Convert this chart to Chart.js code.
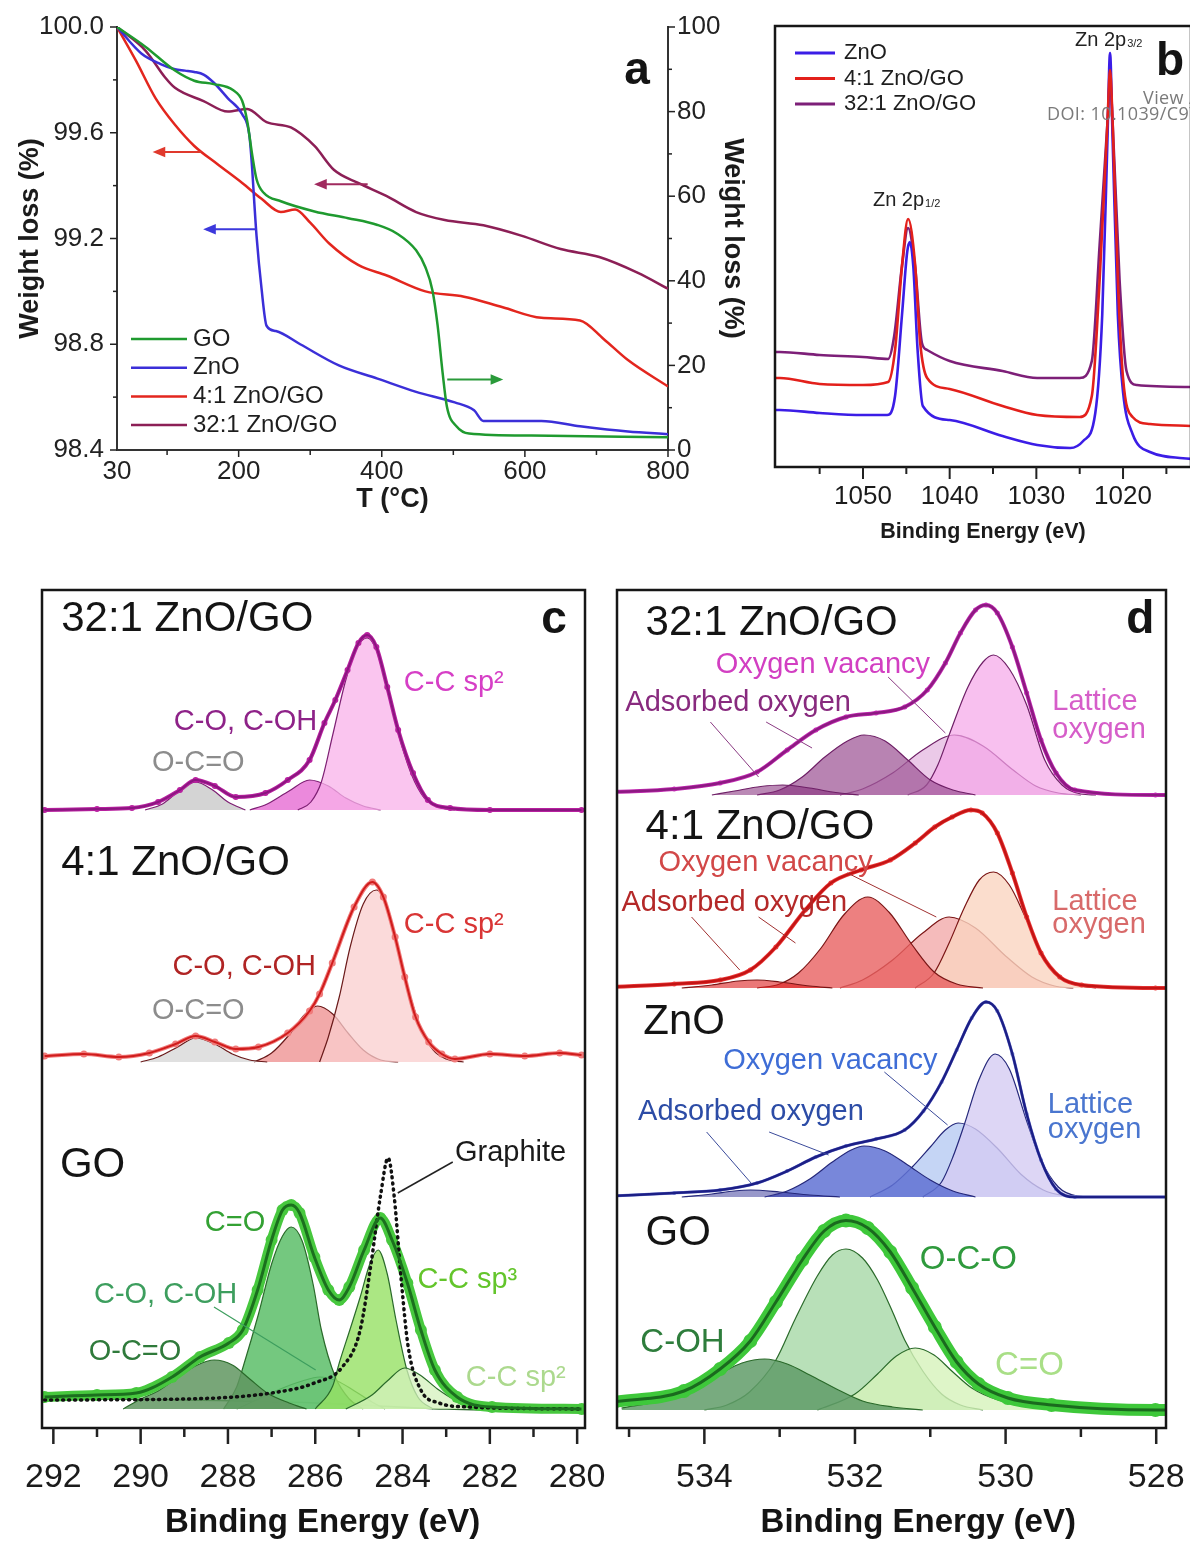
<!DOCTYPE html>
<html>
<head>
<meta charset="utf-8">
<title>ZnO/GO TGA and XPS</title>
<script src="https://cdn.jsdelivr.net/npm/chart.js@4.4.1/dist/chart.umd.min.js"></script>
<style>
  html, body { margin: 0; padding: 0; background: #fff; }
  body { position: relative; width: 1190px; height: 1546px; overflow: hidden; }
  canvas { position: absolute; }
  .doi { position: absolute; font-family: "Open Sans", "Noto Sans", sans-serif; color: #7a7a7a; white-space: nowrap; font-size: 18px; line-height: 18px; letter-spacing: 0.4px; }
</style>
</head>
<body>
<canvas id="tga" width="760" height="540" style="left:0px;top:0px"></canvas>
<canvas id="zn2p" width="430" height="560" style="left:770px;top:0px"></canvas>
<canvas id="c1s" width="640" height="971" style="left:0px;top:575px"></canvas>
<canvas id="o1s" width="590" height="971" style="left:600px;top:575px"></canvas>
<div class="doi" style="left:1143px;top:88px">View Article Online</div>
<div class="doi" style="left:1047px;top:104px">DOI: 10.1039/C9TA</div>
<script>
// ---------- panel a: TGA (temperature, weight %) ----------
var tgaNames = ['GO', 'ZnO', '4:1 ZnO/GO', '32:1 ZnO/GO'];
var tgaGO = [[30,100],[70,95.3],[111,89.7],[138,87.3],[165,86.5],[192,85.1],[205,82.5],[212,77.7],[219,69.7],[225,64.0],[235,60.8],[259,58.8],[306,56.4],[353,54.8],[394,53.2],[421,51.2],[448,47.2],[461,43.2],[471,37.6],[478,29.5],[485,18.3],[491,10.3],[505,5.5],[522,3.9],[609,3.4],[800,3.0]];
var tgaZnO = [[30,100],[64,99.9],[91,99.86],[111,99.84],[125,99.835],[138,99.83],[151,99.82],[165,99.79],[185,99.73],[205,99.67],[215,99.59],[219,99.46],[222,99.33],[225,99.21],[232,99.01],[239,98.87],[252,98.85],[286,98.8],[340,98.72],[394,98.67],[448,98.62],[502,98.58],[529,98.55],[542,98.51],[576,98.51],[623,98.51],[677,98.49],[744,98.47],[800,98.46]];
var tga41 = [[30,100],[57,99.87],[84,99.73],[111,99.63],[138,99.55],[171,99.48],[205,99.41],[232,99.35],[259,99.3],[279,99.31],[300,99.26],[327,99.18],[367,99.1],[407,99.06],[461,99.0],[515,98.98],[569,98.94],[623,98.9],[677,98.89],[710,98.82],[744,98.74],[800,98.64]];
var tga321 = [[30,100],[70,99.91],[97,99.81],[111,99.77],[151,99.72],[185,99.68],[212,99.69],[239,99.64],[273,99.62],[306,99.55],[333,99.46],[367,99.41],[407,99.36],[448,99.3],[488,99.27],[542,99.25],[596,99.21],[650,99.16],[704,99.13],[758,99.07],[800,99.01]];
var tempTicks = [30, 200, 400, 600, 800];
var tempMinor = [100, 300, 500, 700];
var lossTicks = [98.4, 98.8, 99.2, 99.6, 100];
var lossMinor = [98.6, 99.0, 99.4, 99.8];
var lossRightTicks = [0, 20, 40, 60, 80, 100];
var lossRightMinor = [10, 30, 50, 70, 90];

// ---------- panel b: Zn 2p survey (eV, counts a.u.) ----------
var znNames = ['ZnO', '4:1 ZnO/GO', '32:1 ZnO/GO'];
var znZnO = [[1060.1,5.7],[1059.6,5.7],[1055.0,5.4],[1050.0,5.2],[1047.2,5.2],[1046.3,7.1],[1045.5,15.2],[1044.9,21.5],[1044.6,22.5],[1044.2,20.1],[1043.7,11.7],[1043.1,6.1],[1040.0,4.7],[1033.9,3.1],[1029.9,2.2],[1026.1,1.9],[1024.6,2.6],[1023.2,5.4],[1022.4,15.2],[1021.8,32.7],[1021.5,41.4],[1021.2,32.7],[1020.6,15.2],[1020.0,7.5],[1018.9,3.3],[1016.9,1.5],[1012.0,0.8]];
var zn41 = [[1060.1,8.9],[1059.6,8.9],[1055.0,8.3],[1050.0,8.2],[1047.1,8.5],[1046.3,11.7],[1045.5,20.1],[1044.8,24.8],[1044.0,20.4],[1043.4,12.4],[1042.6,8.9],[1040.0,7.8],[1033.9,6.1],[1029.9,5.2],[1025.0,5.0],[1023.6,7.1],[1022.7,18.7],[1021.8,34.4],[1021.5,39.7],[1021.2,34.4],[1020.6,18.7],[1020.0,8.9],[1018.9,5.0],[1016.9,4.3],[1012.0,4.1]];
var zn321 = [[1060.1,11.5],[1059.6,11.5],[1055.0,11.2],[1050.0,11.0],[1047.1,10.8],[1046.4,13.1],[1045.5,20.1],[1044.8,23.9],[1044.0,20.1],[1043.2,12.4],[1042.6,11.7],[1040.0,10.6],[1033.9,9.6],[1029.9,8.9],[1025.0,8.9],[1023.6,10.6],[1022.7,22.2],[1021.8,34.4],[1021.5,38.6],[1021.2,34.4],[1020.4,18.7],[1019.6,9.6],[1018.4,8.2],[1012.0,8.0]];
var znTicks = [1050, 1040, 1030, 1020];
var znMinor = [1055, 1045, 1035, 1025, 1015];

// ---------- panel c: C 1s (eV, counts a.u. above each baseline) ----------
var cOffsets = [61.8, 36.6, 1.9];   // 32:1, 4:1, GO
var c321Env = [[292.2,0],[291.0,0.1],[290.2,0.2],[289.6,0.8],[289.1,2.0],[288.74,3.0],[288.3,2.4],[287.82,1.3],[287.14,1.7],[286.63,3.0],[286.13,5.0],[285.79,8.7],[285.54,11.0],[285.26,14.0],[285.01,16.7],[284.81,17.5],[284.6,16.3],[284.35,12.3],[284.1,8.0],[283.76,3.7],[283.42,1.0],[282.91,0.2],[282.0,0],[279.9,0]];
var c321OCO = [[289.9,0],[289.5,0.6],[289.15,1.8],[288.74,2.8],[288.35,2.0],[288.0,0.8],[287.6,0]];
var c321CO = [[287.5,0],[287.1,0.6],[286.6,1.9],[286.13,3.0],[285.7,2.4],[285.3,1.2],[284.9,0.4],[284.5,0]];
var c321CC = [[286.4,0],[286.1,0.8],[285.86,2.8],[285.6,7.5],[285.3,13.0],[285.05,16.2],[284.81,17.2],[284.6,16.0],[284.35,12.0],[284.1,7.7],[283.8,3.6],[283.5,1.2],[283.1,0.2],[282.8,0]];
var c41Env = [[292.2,0.6],[291.3,0.8],[290.5,0.5],[289.8,0.9],[289.2,1.8],[288.74,2.6],[288.3,2.0],[287.82,1.3],[287.3,1.5],[286.63,2.9],[286.13,5.1],[285.9,6.8],[285.61,9.9],[285.11,15.5],[284.69,18.0],[284.44,16.5],[284.17,12.5],[283.95,8.5],[283.7,4.5],[283.4,2.0],[283.1,0.8],[282.8,0.3],[282.0,0.8],[281.2,0.6],[280.4,0.9],[279.9,0.7]];
var c41OCO = [[290.0,0],[289.6,0.5],[289.15,1.5],[288.74,2.4],[288.3,1.8],[287.9,0.8],[287.5,0.2],[287.1,0]];
var c41CO = [[287.4,0],[287.0,0.9],[286.6,2.7],[286.25,4.7],[285.95,5.6],[285.6,4.8],[285.25,2.9],[284.9,1.2],[284.5,0.2],[284.1,0]];
var c41CC = [[285.9,0],[285.7,2.5],[285.45,6.5],[285.2,11.5],[284.9,15.8],[284.6,17.2],[284.35,15.6],[284.1,11.2],[283.85,7.0],[283.6,3.6],[283.3,1.2],[283.0,0.3],[282.6,0]];
var cGOEnv = [[292.2,1.2],[291.0,1.4],[290.1,1.6],[289.28,3.2],[288.64,5.2],[287.98,6.6],[287.66,7.9],[287.32,11.9],[287.0,16.9],[286.75,19.9],[286.55,20.4],[286.36,19.6],[286.02,15.2],[285.7,11.9],[285.45,10.9],[285.22,12.2],[284.88,15.9],[284.51,19.1],[284.24,16.9],[283.89,12.6],[283.58,7.9],[283.26,3.9],[282.75,1.2],[281.95,0.2],[279.9,0]];
var cGOBack = [[292.2,1.1],[289.0,0.9],[286.0,0.6],[283.0,0.0],[279.9,-0.2]];
var cGOOCO = [[290.4,0],[290.0,1.0],[289.6,1.8],[289.2,3.0],[288.7,4.4],[288.31,4.9],[287.9,4.4],[287.5,3.0],[287.1,1.6],[286.6,0.6],[286.2,0]];
var cGOCdO = [[288.1,0],[287.8,2.2],[287.66,4.1],[287.3,9.5],[287.0,14.5],[286.75,17.3],[286.55,18.2],[286.3,16.8],[286.05,12.5],[285.86,7.9],[285.54,3.2],[285.22,1.0],[284.9,0]];
var cGOCO = [[287.8,0],[287.2,1.2],[286.8,2.0],[286.3,2.8],[285.9,3.2],[285.5,2.8],[285.1,1.8],[284.7,0.7],[284.4,0]];
var cGOsp3 = [[286.0,0],[285.6,2.3],[285.45,4.6],[285.2,8.0],[284.97,11.2],[284.75,14.5],[284.56,15.9],[284.35,13.5],[284.15,8.9],[283.9,3.9],[283.65,1.2],[283.3,0]];
var cGOsp2 = [[285.3,0],[284.7,1.4],[284.35,2.8],[283.95,4.1],[283.6,3.4],[283.2,2.0],[282.8,0.9],[282.2,0]];
var cGraphite = [[292.2,0.9],[289.0,1.0],[287.0,1.6],[286.02,2.6],[285.38,4.2],[284.97,7.9],[284.72,14.6],[284.51,21.2],[284.33,25.1],[284.19,21.2],[284.03,12.9],[283.87,6.2],[283.58,1.9],[283.16,0.6],[282.5,0.2],[279.9,0]];
var cTicks = [292, 290, 288, 286, 284, 282, 280];
var cMinor = [291, 289, 287, 285, 283, 281];

// ---------- panel d: O 1s (eV, counts a.u. above each baseline) ----------
var dOffsets = [63.3, 44.0, 23.1, 1.8];   // 32:1, 4:1, ZnO, GO
var d321Env = [[535.2,0.3],[534.4,0.6],[533.79,1.2],[533.3,2.3],[532.9,4.5],[532.52,6.5],[532.12,7.8],[531.72,8.2],[531.34,8.8],[531.04,10.5],[530.8,13.2],[530.6,16.2],[530.4,18.5],[530.26,19.0],[530.11,18.2],[529.91,14.8],[529.72,10.2],[529.53,5.5],[529.33,2.2],[529.08,0.5],[528.01,0],[527.8,0]];
var d321Small = [[533.9,0],[533.6,0.4],[533.25,0.85],[532.96,1.0],[532.6,0.7],[532.3,0.3],[531.95,0]];
var d321Ads = [[533.3,0],[533.0,0.5],[532.7,1.8],[532.4,3.8],[532.1,5.4],[531.88,6.0],[531.6,5.4],[531.3,3.5],[531.0,1.5],[530.7,0.5],[530.4,0]];
var d321Vac = [[532.2,0],[531.9,0.6],[531.5,2.2],[531.1,4.5],[530.68,6.0],[530.3,4.9],[529.9,2.5],[529.6,0.9],[529.3,0.2],[529.0,0]];
var d321Lat = [[531.3,0],[531.05,1.0],[530.9,3.0],[530.75,6.0],[530.5,10.8],[530.3,13.3],[530.16,14.0],[529.95,12.6],[529.72,9.0],[529.48,3.5],[529.25,1.0],[529.0,0.1],[528.8,0]];
var d41Env = [[535.2,0.1],[534.4,0.4],[533.79,0.8],[533.39,1.8],[533.05,4.1],[532.66,7.8],[532.32,10.5],[531.92,11.8],[531.53,12.8],[531.2,14.5],[530.94,16.1],[530.71,17.1],[530.46,17.8],[530.31,17.5],[530.11,15.5],[529.91,11.5],[529.72,7.1],[529.53,3.5],[529.28,1.1],[528.99,0.3],[528.01,0],[527.8,0]];
var d41Small = [[534.3,0],[533.9,0.3],[533.55,0.7],[533.3,0.8],[533.0,0.6],[532.6,0.2],[532.3,0]];
var d41Ads = [[533.3,0],[533.0,0.4],[532.75,1.5],[532.45,4.0],[532.15,7.3],[531.83,9.1],[531.55,7.6],[531.24,4.3],[530.95,1.6],[530.65,0.4],[530.3,0]];
var d41Vac = [[532.2,0],[531.9,0.8],[531.5,2.8],[531.1,5.5],[530.75,7.1],[530.4,6.0],[530.0,3.2],[529.65,1.1],[529.35,0.2],[529.1,0]];
var d41Lat = [[531.2,0],[530.95,1.5],[530.75,4.5],[530.55,8.0],[530.35,10.8],[530.16,11.6],[529.95,10.3],[529.72,6.8],[529.48,3.0],[529.25,0.9],[529.0,0.2],[528.8,0]];
var dZnOEnv = [[535.2,0.1],[534.4,0.4],[533.79,0.7],[533.3,1.4],[532.9,2.6],[532.52,4.0],[532.12,5.1],[531.72,5.8],[531.34,6.7],[531.09,8.6],[530.85,11.5],[530.65,14.7],[530.45,17.9],[530.26,19.5],[530.11,18.6],[529.91,14.3],[529.72,8.3],[529.53,3.7],[529.33,0.8],[529.08,0],[527.8,0]];
var dZnOSmall = [[534.3,0],[533.9,0.3],[533.6,0.6],[533.39,0.7],[533.0,0.5],[532.6,0.2],[532.2,0]];
var dZnOAds = [[533.2,0],[532.9,0.6],[532.6,1.8],[532.3,3.5],[532.05,4.7],[531.88,5.1],[531.6,4.6],[531.3,3.2],[531.0,1.7],[530.7,0.6],[530.4,0]];
var dZnOVac = [[531.8,0],[531.5,1.2],[531.24,3.0],[531.0,5.0],[530.8,6.7],[530.63,7.4],[530.4,6.8],[530.1,4.8],[529.8,2.3],[529.5,0.7],[529.2,0.1],[529.0,0]];
var dZnOLat = [[531.1,0],[530.85,1.5],[530.7,4.0],[530.55,7.2],[530.35,11.8],[530.14,14.3],[529.95,12.8],[529.72,7.6],[529.53,3.7],[529.3,1.0],[529.05,0.1],[528.8,0]];
var dGOEnv = [[535.2,0.8],[534.27,1.9],[533.79,4.1],[533.39,6.9],[533.05,10.8],[532.7,15.0],[532.41,17.9],[532.12,18.95],[531.83,18.2],[531.53,15.8],[531.24,12.2],[530.94,8.3],[530.65,4.8],[530.36,2.6],[529.97,1.2],[529.39,0.5],[528.01,0],[527.8,0]];
var dGOCOH = [[535.1,0.2],[534.6,0.9],[534.2,2.0],[533.8,3.6],[533.5,4.7],[533.2,5.1],[532.9,4.6],[532.6,3.5],[532.22,2.0],[531.9,0.9],[531.5,0.3],[531.1,0]];
var dGOOCO = [[534.0,0],[533.7,0.5],[533.4,1.8],[533.05,5.0],[532.8,9.0],[532.5,13.4],[532.3,15.5],[532.12,16.1],[531.9,15.2],[531.7,13.0],[531.5,9.8],[531.34,7.0],[531.1,3.9],[530.85,1.6],[530.6,0.5],[530.3,0]];
var dGOCdO = [[532.5,0],[532.0,1.6],[531.7,3.6],[531.45,5.4],[531.2,6.2],[530.95,5.5],[530.7,3.8],[530.45,2.2],[530.1,1.0],[529.7,0.4],[529.2,0.1],[528.8,0]];
var dTicks = [534, 532, 530, 528];
var dMinor = [535, 533, 531, 529];

var FONT = '"Liberation Sans", Arial, Helvetica, sans-serif';
Chart.defaults.font.family = FONT;
Chart.defaults.color = '#1b1b1b';
Chart.defaults.animation = false;
Chart.defaults.plugins.legend.display = false;
Chart.defaults.plugins.tooltip.enabled = false;

function xy(points, offset) {
    return points.map(function (p) { return { x: p[0], y: p[1] + (offset || 0) }; });
}

function curve(points, color, width, axis) {
    return { data: xy(points), borderColor: color, borderWidth: width, pointRadius: 0, fill: false,
        yAxisID: axis || 'y', cubicInterpolationMode: 'monotone', borderJoinStyle: 'round' };
}

function fitLine(points, offset, color, width) {
    return { data: xy(points, offset), borderColor: color, borderWidth: width, pointRadius: 0, fill: false,
        cubicInterpolationMode: 'monotone', borderJoinStyle: 'round' };
}

function measured(points, offset, color, band, radius) {
    return { data: xy(points, offset), borderColor: color, borderWidth: band, pointRadius: radius,
        pointBackgroundColor: color, pointBorderWidth: 0, fill: false, cubicInterpolationMode: 'monotone' };
}

function peak(points, offset, fillColor, lineColor) {
    return { data: xy(points, offset), borderColor: lineColor, borderWidth: 1.2, backgroundColor: fillColor,
        pointRadius: 0, fill: { value: offset }, cubicInterpolationMode: 'monotone' };
}

function drawLabel(ctx, t, x, y) {
    var main = (t.bold ? 'bold ' : '') + t.size + 'px ' + FONT;
    var small = Math.round(t.size * 0.55) + 'px ' + FONT;
    ctx.font = main;
    var w = ctx.measureText(t.t).width;
    var sw = 0;
    if (t.sub) { ctx.font = small; sw = ctx.measureText(t.sub).width; }
    var x0 = x;
    if (t.align === 'center') x0 = x - (w + sw) / 2;
    else if (t.align === 'right') x0 = x - w - sw;
    ctx.fillStyle = t.color || '#141414';
    ctx.textAlign = 'left';
    ctx.textBaseline = 'middle';
    ctx.font = main;
    ctx.fillText(t.t, x0, y);
    if (t.sub) {
        ctx.font = small;
        ctx.fillText(t.sub, x0 + w + 1, y + t.size * 0.22);
    }
}

function decor(o) {
    return {
        id: 'decor',
        afterDraw: function (chart) {
            var ctx = chart.ctx;
            var area = chart.chartArea;
            var sx = chart.scales.x;
            ctx.save();
            if (o.box) {
                ctx.strokeStyle = '#161616';
                ctx.lineWidth = o.box;
                ctx.strokeRect(area.left, area.top, area.right - area.left, area.bottom - area.top);
            }
            (o.ticks || []).forEach(function (t) {
                var sc = chart.scales[t.axis];
                ctx.strokeStyle = '#222';
                ctx.lineWidth = t.width;
                t.values.forEach(function (v) {
                    var p = sc.getPixelForValue(v);
                    ctx.beginPath();
                    if (t.axis === 'x') { ctx.moveTo(p, area.bottom); ctx.lineTo(p, area.bottom + t.len); }
                    else if (t.axis === 'y2') { ctx.moveTo(area.right, p); ctx.lineTo(area.right + t.len, p); }
                    else { ctx.moveTo(area.left, p); ctx.lineTo(area.left - t.len, p); }
                    ctx.stroke();
                });
            });
            (o.lines || []).forEach(function (l) {
                var sy = chart.scales[l.axis || 'y'];
                var x1 = sx.getPixelForValue(l.from[0]), y1 = sy.getPixelForValue(l.from[1]);
                var x2 = sx.getPixelForValue(l.to[0]), y2 = sy.getPixelForValue(l.to[1]);
                ctx.strokeStyle = l.color;
                ctx.fillStyle = l.color;
                ctx.lineWidth = l.width || 1;
                ctx.beginPath();
                ctx.moveTo(x1, y1);
                ctx.lineTo(x2, y2);
                ctx.stroke();
                if (l.head) {
                    var ang = Math.atan2(y2 - y1, x2 - x1);
                    ctx.beginPath();
                    ctx.moveTo(x2 + Math.cos(ang) * 3, y2 + Math.sin(ang) * 3);
                    ctx.lineTo(x2 - Math.cos(ang - 0.5) * l.head, y2 - Math.sin(ang - 0.5) * l.head);
                    ctx.lineTo(x2 - Math.cos(ang + 0.5) * l.head, y2 - Math.sin(ang + 0.5) * l.head);
                    ctx.closePath();
                    ctx.fill();
                }
            });
            (o.texts || []).forEach(function (t) {
                var sy = chart.scales[t.axis || 'y'];
                drawLabel(ctx, t, sx.getPixelForValue(t.x), sy.getPixelForValue(t.y));
            });
            if (o.legend) {
                var lg = o.legend;
                lg.items.forEach(function (it, i) {
                    var y = area.top + lg.y + i * lg.step;
                    ctx.strokeStyle = it.color;
                    ctx.lineWidth = lg.width;
                    ctx.beginPath();
                    ctx.moveTo(area.left + lg.x, y);
                    ctx.lineTo(area.left + lg.x + lg.len, y);
                    ctx.stroke();
                    ctx.fillStyle = '#1e1e1e';
                    ctx.font = lg.size + 'px ' + FONT;
                    ctx.textBaseline = 'middle';
                    ctx.textAlign = 'left';
                    ctx.fillText(it.label, area.left + lg.x + lg.len + lg.gap, y);
                });
            }
            ctx.restore();
        }
    };
}

function fixedTicks(values) {
    return function (s) { s.ticks = values.map(function (v) { return { value: v }; }); };
}

// fixed axis thickness, and no extra room reserved for labels overhanging the ends
function fixHeight(h) {
    return function (s) { s.height = h; s.paddingLeft = 0; s.paddingRight = 0; };
}
function fixWidth(w) {
    return function (s) { s.width = w; s.paddingTop = 0; s.paddingBottom = 0; };
}

function plainNumber(v) { return String(v); }

function energyAxis(min, max, labels, height, size, pad, title) {
    return {
        type: 'linear', min: min, max: max, reverse: true,
        afterFit: fixHeight(height),
        afterBuildTicks: fixedTicks(labels),
        grid: { display: false, drawTicks: false },
        border: { display: false },
        ticks: { font: { size: size }, padding: pad, color: '#1b1b1b', autoSkip: false, maxRotation: 0, callback: plainNumber },
        title: title || { display: false }
    };
}

// ---------- panel a ----------
var tgaColors = ['#1f9a2f', '#3b2fd8', '#e3261e', '#8c1f56'];
new Chart(document.getElementById('tga'), {
    type: 'line',
    data: {
        datasets: [
            curve(tgaGO, tgaColors[0], 2.5, 'y2'),
            curve(tgaZnO, tgaColors[1], 2.5),
            curve(tga41, tgaColors[2], 2.5),
            curve(tga321, tgaColors[3], 2.5)
        ]
    },
    options: {
        responsive: false,
        devicePixelRatio: 1,
        layout: { padding: { top: 27, left: 0, right: 0, bottom: 0 } },
        scales: {
            x: {
                type: 'linear', min: 30, max: 800,
                afterFit: fixHeight(90),
                afterBuildTicks: fixedTicks(tempTicks),
                grid: { display: false, drawTicks: false },
                border: { display: true, color: '#333', width: 2 },
                ticks: { font: { size: 26 }, padding: 6, color: '#222', autoSkip: false, maxRotation: 0, callback: plainNumber },
                title: { display: true, text: 'T (°C)', font: { size: 27, weight: 'bold' }, color: '#1b1b1b', padding: { top: 0, bottom: 24 } }
            },
            y: {
                position: 'left', min: 98.4, max: 100,
                afterFit: fixWidth(117),
                afterBuildTicks: fixedTicks(lossTicks),
                grid: { display: false, drawTicks: false },
                border: { display: true, color: '#333', width: 2 },
                ticks: { font: { size: 26 }, padding: 13, color: '#222', autoSkip: false,
                    callback: function (v) { return v.toFixed(1); } },
                title: { display: true, text: 'Weight loss (%)', font: { size: 27, weight: 'bold' }, color: '#1b1b1b', padding: { top: 14, bottom: 0 } }
            },
            y2: {
                position: 'right', min: 0, max: 100,
                afterFit: fixWidth(92),
                afterBuildTicks: fixedTicks(lossRightTicks),
                grid: { display: false, drawTicks: false },
                border: { display: true, color: '#333', width: 2 },
                ticks: { font: { size: 26 }, padding: 9, color: '#222', autoSkip: false, callback: plainNumber },
                title: { display: true, text: 'Weight loss (%)', font: { size: 27, weight: 'bold' }, color: '#1b1b1b', padding: { top: 11, bottom: 0 } }
            }
        }
    },
    plugins: [decor({
        ticks: [
            { axis: 'x', values: tempTicks.slice(1), len: 7, width: 1.5 },
            { axis: 'x', values: tempMinor, len: 5, width: 1.5 },
            { axis: 'y', values: lossTicks, len: 7, width: 1.5 },
            { axis: 'y', values: lossMinor, len: 4, width: 1.5 },
            { axis: 'y2', values: lossRightTicks, len: 7, width: 1.5 },
            { axis: 'y2', values: lossRightMinor, len: 4, width: 1.5 }
        ],
        lines: [
            { from: [147.9, 99.527], to: [83.9, 99.527], color: '#e0392d', width: 2, head: 11 },
            { from: [380.3, 99.405], to: [309.6, 99.405], color: '#a02a5e', width: 2, head: 11 },
            { from: [225.4, 99.235], to: [154.6, 99.235], color: '#3c38dc', width: 2, head: 11 },
            { from: [491.5, 98.667], to: [565.6, 98.667], color: '#2a9a3a', width: 2, head: 11 }
        ],
        texts: [
            { t: 'a', x: 756.7, y: 99.834, size: 46, bold: true, align: 'center' }
        ],
        legend: {
            x: 14, y: 312, step: 28.7, len: 56, gap: 6, size: 24, width: 2.5,
            items: tgaNames.map(function (n, i) { return { label: n, color: tgaColors[i] }; })
        }
    })]
});

// ---------- panel b ----------
var znColors = ['#3b1de6', '#e3201b', '#7d1f78'];
new Chart(document.getElementById('zn2p'), {
    type: 'line',
    data: {
        datasets: [
            curve(zn41, znColors[1], 2.6),
            curve(znZnO, znColors[0], 2.6),
            curve(zn321, znColors[2], 2.6)
        ]
    },
    options: {
        responsive: false,
        devicePixelRatio: 1,
        layout: { padding: { top: 26, left: 5, right: 9, bottom: 0 } },
        scales: {
            x: energyAxis(1012.16, 1060.15, znTicks, 93, 26, 14,
                { display: true, text: 'Binding Energy (eV)', font: { size: 21.5, weight: 'bold' }, color: '#1b1b1b', padding: { top: 0, bottom: 15 } }),
            y: { display: false, min: 0, max: 44.1 }
        }
    },
    plugins: [decor({
        box: 2.5,
        ticks: [
            { axis: 'x', values: znTicks, len: 12, width: 2 },
            { axis: 'x', values: znMinor, len: 7, width: 2 }
        ],
        texts: [
            { t: 'b', x: 1014.58, y: 40.5, size: 46, bold: true, align: 'center' },
            { t: 'Zn 2p', sub: '3/2', x: 1025.54, y: 42.7, size: 20, color: '#222' },
            { t: 'Zn 2p', sub: '1/2', x: 1048.85, y: 26.7, size: 20, color: '#222' }
        ],
        legend: {
            x: 20, y: 27, step: 25.5, len: 40, gap: 9, size: 22, width: 3,
            items: znNames.map(function (n, i) { return { label: n, color: znColors[i] }; })
        }
    })]
});

// ---------- panel c ----------
var c321 = cOffsets[0], c41 = cOffsets[1], cGO = cOffsets[2];
new Chart(document.getElementById('c1s'), {
    type: 'line',
    data: {
        datasets: [
            fitLine(c321Env, c321, '#8b1680', 2),
            measured(c321Env, c321, '#b8209f', 4, 3),
            peak(c321OCO, c321, 'rgba(205,205,205,0.85)', '#7d1f73'),
            peak(c321CC, c321, 'rgba(248,178,234,0.75)', '#7d1f73'),
            peak(c321CO, c321, 'rgba(228,98,208,0.75)', '#7d1f73'),
            fitLine(c41Env, c41, '#d01c1c', 2),
            measured(c41Env, c41, '#f07a7a', 4, 3.5),
            peak(c41OCO, c41, 'rgba(218,218,218,0.85)', '#6a1a1a'),
            peak(c41CC, c41, 'rgba(250,205,205,0.75)', '#6a1a1a'),
            peak(c41CO, c41, 'rgba(238,140,140,0.75)', '#6a1a1a'),
            fitLine(cGOEnv, cGO, '#1b6f1e', 3),
            Object.assign(fitLine(cGraphite, cGO, '#111', 3.5), { borderDash: [1, 5], borderCapStyle: 'round' }),
            measured(cGOEnv, cGO, '#47c83e', 10, 6),
            peak(cGOOCO, cGO, 'rgba(96,150,96,0.85)', '#2a6a2a'),
            peak(cGOsp2, cGO, 'rgba(212,242,188,0.75)', '#2a6a2a'),
            peak(cGOsp3, cGO, 'rgba(150,225,100,0.8)', '#2a6a2a'),
            peak(cGOCdO, cGO, 'rgba(92,190,104,0.85)', '#2a6a2a'),
            peak(cGOCO, cGO, 'rgba(190,232,192,0.75)', '#2a6a2a'),
            fitLine(cGOBack, cGO, '#2a6a2a', 1.5)
        ]
    },
    options: {
        responsive: false,
        devicePixelRatio: 1,
        layout: { padding: { top: 15, left: 42, right: 55, bottom: 0 } },
        scales: {
            x: energyAxis(279.82, 292.26, cTicks, 118, 34, 29),
            y: { display: false, min: 0, max: 83.8 }
        }
    },
    plugins: [decor({
        box: 2.5,
        ticks: [
            { axis: 'x', values: cTicks, len: 16, width: 2.5 },
            { axis: 'x', values: cMinor, len: 9, width: 2.5 }
        ],
        lines: [
            { from: [282.85, 26.6], to: [284.11, 23.5], color: '#222', width: 1.5 },
            { from: [288.32, 12.1], to: [285.99, 5.8], color: '#3d9e5e', width: 1.2 }
        ],
        texts: [
            { t: '32:1 ZnO/GO', x: 291.82, y: 80.9, size: 42 },
            { t: 'c', x: 280.53, y: 80.8, size: 46, bold: true, align: 'center' },
            { t: 'C-C sp²', x: 283.97, y: 74.5, size: 29, color: '#d63fc6' },
            { t: 'C-O, C-OH', x: 289.24, y: 70.6, size: 29, color: '#8e2288' },
            { t: 'O-C=O', x: 289.74, y: 66.5, size: 29, color: '#8c8c8c' },
            { t: '4:1 ZnO/GO', x: 291.82, y: 56.5, size: 42 },
            { t: 'C-C sp²', x: 283.97, y: 50.3, size: 29, color: '#d93535' },
            { t: 'C-O, C-OH', x: 289.27, y: 46.1, size: 29, color: '#b02424' },
            { t: 'O-C=O', x: 289.74, y: 41.7, size: 29, color: '#8c8c8c' },
            { t: 'GO', x: 291.85, y: 26.3, size: 42 },
            { t: 'Graphite', x: 282.8, y: 27.5, size: 29, color: '#1a1a1a' },
            { t: 'C=O', x: 288.53, y: 20.5, size: 29, color: '#33a133' },
            { t: 'C-C sp³', x: 283.66, y: 14.8, size: 29, color: '#63c52b' },
            { t: 'C-O, C-OH', x: 291.07, y: 13.3, size: 29, color: '#3d9e5e' },
            { t: 'O-C=O', x: 291.19, y: 7.6, size: 29, color: '#2f7a3b' },
            { t: 'C-C sp²', x: 282.55, y: 5.0, size: 29, color: '#acd98e' },
            { t: 'Binding Energy (eV)', x: 285.83, y: -9.5, size: 33, bold: true, align: 'center' }
        ]
    })]
});

// ---------- panel d ----------
var d321 = dOffsets[0], d41 = dOffsets[1], dZnO = dOffsets[2], dGO = dOffsets[3];
new Chart(document.getElementById('o1s'), {
    type: 'line',
    data: {
        datasets: [
            fitLine(d321Env, d321, '#8d1a82', 2.5),
            measured(d321Env, d321, '#c42bb4', 4, 2.5),
            peak(d321Small, d321, 'rgba(130,40,120,0.55)', '#6e1f66'),
            peak(d321Ads, d321, 'rgba(160,90,152,0.75)', '#6e1f66'),
            peak(d321Lat, d321, 'rgba(245,165,232,0.7)', '#6e1f66'),
            peak(d321Vac, d321, 'rgba(226,178,222,0.7)', '#6e1f66'),
            fitLine(d41Env, d41, '#c41414', 2.5),
            measured(d41Env, d41, '#ec3b3b', 4, 2.5),
            peak(d41Small, d41, 'rgba(220,30,30,0.6)', '#7a1515'),
            peak(d41Ads, d41, 'rgba(232,96,96,0.8)', '#7a1515'),
            peak(d41Lat, d41, 'rgba(250,212,192,0.8)', '#7a1515'),
            peak(d41Vac, d41, 'rgba(242,164,164,0.75)', '#7a1515'),
            fitLine(dZnOEnv, dZnO, '#1c1f86', 2.5),
            measured(dZnOEnv, dZnO, '#7b86d8', 3, 2),
            peak(dZnOSmall, dZnO, 'rgba(50,50,150,0.5)', '#25287a'),
            peak(dZnOAds, dZnO, 'rgba(96,114,212,0.85)', '#25287a'),
            peak(dZnOLat, dZnO, 'rgba(212,204,242,0.8)', '#25287a'),
            peak(dZnOVac, dZnO, 'rgba(182,202,242,0.8)', '#25287a'),
            fitLine(dGOEnv, dGO, '#1a6a1e', 3),
            measured(dGOEnv, dGO, '#3ec83a', 12, 7),
            peak(dGOCOH, dGO, 'rgba(96,156,104,0.85)', '#2a6a2a'),
            peak(dGOCdO, dGO, 'rgba(214,242,186,0.8)', '#2a6a2a'),
            peak(dGOOCO, dGO, 'rgba(166,216,166,0.8)', '#2a6a2a')
        ]
    },
    options: {
        responsive: false,
        devicePixelRatio: 1,
        layout: { padding: { top: 15, left: 17, right: 24, bottom: 0 } },
        scales: {
            x: energyAxis(527.87, 535.16, dTicks, 118, 34, 29),
            y: { display: false, min: 0, max: 83.8 }
        }
    },
    plugins: [decor({
        box: 2.5,
        ticks: [
            { axis: 'x', values: dTicks, len: 16, width: 2.5 },
            { axis: 'x', values: dMinor, len: 9, width: 2.5 }
        ],
        lines: [
            { from: [533.92, 70.6], to: [533.28, 65.1], color: '#8a3a82', width: 1 },
            { from: [533.18, 70.6], to: [532.57, 68.0], color: '#8a3a82', width: 1 },
            { from: [531.56, 75.1], to: [530.8, 69.5], color: '#8a3a82', width: 1 },
            { from: [534.17, 51.1], to: [533.53, 45.8], color: '#a03030', width: 1 },
            { from: [533.28, 51.1], to: [532.79, 48.5], color: '#a03030', width: 1 },
            { from: [532.1, 55.5], to: [530.92, 51.1], color: '#a03030', width: 1 },
            { from: [533.97, 29.6], to: [533.38, 24.5], color: '#3a4a9a', width: 1 },
            { from: [533.14, 29.6], to: [532.35, 27.3], color: '#3a4a9a', width: 1 },
            { from: [531.61, 35.6], to: [530.77, 30.3], color: '#3a4a9a', width: 1 }
        ],
        texts: [
            { t: '32:1 ZnO/GO', x: 534.78, y: 80.5, size: 42 },
            { t: 'd', x: 528.21, y: 80.8, size: 46, bold: true, align: 'center' },
            { t: 'Oxygen vacancy', x: 533.85, y: 76.3, size: 29, color: '#d23fc2' },
            { t: 'Adsorbed oxygen', x: 535.05, y: 72.5, size: 29, color: '#882a7e' },
            { t: 'Lattice', x: 529.38, y: 72.6, size: 29, color: '#d65ec9' },
            { t: 'oxygen', x: 529.38, y: 69.8, size: 29, color: '#d65ec9' },
            { t: '4:1 ZnO/GO', x: 534.78, y: 60.1, size: 42 },
            { t: 'Oxygen vacancy', x: 534.61, y: 56.5, size: 29, color: '#d24848' },
            { t: 'Adsorbed oxygen', x: 535.1, y: 52.5, size: 29, color: '#b42828' },
            { t: 'Lattice', x: 529.38, y: 52.6, size: 29, color: '#d86a6a' },
            { t: 'oxygen', x: 529.38, y: 50.3, size: 29, color: '#d86a6a' },
            { t: 'ZnO', x: 534.81, y: 40.6, size: 42 },
            { t: 'Oxygen vacancy', x: 533.75, y: 36.7, size: 29, color: '#3e6dd6' },
            { t: 'Adsorbed oxygen', x: 534.88, y: 31.6, size: 29, color: '#2c4ca6' },
            { t: 'Lattice', x: 529.44, y: 32.3, size: 29, color: '#4a76cf' },
            { t: 'oxygen', x: 529.44, y: 29.8, size: 29, color: '#4a76cf' },
            { t: 'GO', x: 534.78, y: 19.5, size: 42 },
            { t: 'O-C-O', x: 531.14, y: 16.8, size: 33, color: '#2f9a3d' },
            { t: 'C-OH', x: 534.85, y: 8.5, size: 33, color: '#2e7d3c' },
            { t: 'C=O', x: 530.14, y: 6.2, size: 33, color: '#a9df87' },
            { t: 'Binding Energy (eV)', x: 531.16, y: -9.5, size: 33, bold: true, align: 'center' }
        ]
    })]
});
</script>
</body>
</html>
